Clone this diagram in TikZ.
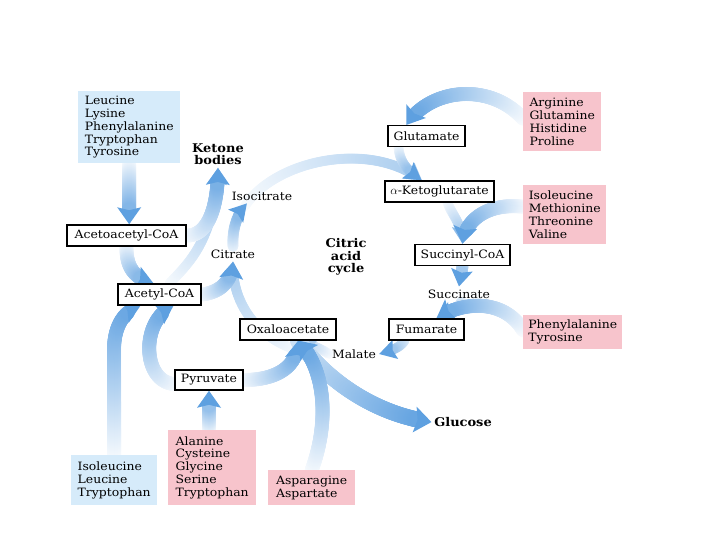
\documentclass[tikz,border=0pt]{standalone}
\usepackage{fontspec}
\setmainfont{DejaVu Serif}[FakeStretch=1.08]
\usetikzlibrary{decorations.markings}
\definecolor{flowblue}{RGB}{94,160,224}
\definecolor{boxblue}{RGB}{214,235,250}
\definecolor{boxpink}{RGB}{247,196,204}
\pgfdeclarelayer{background}
\pgfsetlayers{background,main}
\def\flowr{7pt}\def\flowh{12pt}\def\flows{4}\def\flowe{100}
\tikzset{
  flow r/.store in=\flowr,
  flow head/.store in=\flowh,
  flow from/.store in=\flows,
  flow to/.store in=\flowe,
  flow/.style={postaction={decorate,decoration={markings,
    mark=between positions 0 and -14pt step 1pt with {%
      \pgfmathsetmacro\flowfr{max(0,min(100,\flows+(\flowe-\flows)*\pgfkeysvalueof{/pgf/decoration/mark info/distance from start}/\pgfdecoratedpathlength))}%
      \fill[flowblue!\flowfr!white] (0pt,0pt) circle[radius=\flowr];},
    mark=at position -3pt with {%
      \fill[flowblue!\flowe!white] (-14pt,-\flowh) -- (3pt,0pt) -- (-14pt,\flowh) -- (-11pt,0pt) -- cycle;}}}},
  thin flow/.style={flow, flow r=5pt, flow head=10pt},
  cycle flow/.style={flow, flow r=5pt, flow head=10pt, flow to=55},
  aabox/.style={anchor=north west, inner sep=5pt, align=left},
  bluebox/.style={aabox, fill=boxblue},
  pinkbox/.style={aabox, fill=boxpink},
  mbox/.style={draw=black, line width=1.5pt, fill=white, inner sep=2pt, minimum height=21pt},
  plain/.style={inner sep=3pt},
  boldlabel/.style={inner sep=3pt, font=\fontsize{12}{12.5}\selectfont\bfseries, align=center},
}
\begin{document}
\begin{tikzpicture}[x=1pt,y=-1pt, font=\fontsize{11.5}{12.8}\selectfont]
\useasboundingbox (0,0) rectangle (720,540);
% amino acid boxes
\node[bluebox, minimum width=102pt, minimum height=72pt] (leu) at (78,91) {Leucine\\Lysine\\Phenylalanine\\Tryptophan\\Tyrosine};
\node[bluebox, minimum width=86pt, minimum height=50pt] (ilb) at (71,455) {Isoleucine\\Leucine\\Tryptophan};
\node[pinkbox, minimum width=78pt, minimum height=59pt] (arg) at (523,92) {Arginine\\Glutamine\\Histidine\\Proline};
\node[pinkbox, minimum width=83pt, minimum height=59pt] (ilm) at (523,185) {Isoleucine\\Methionine\\Threonine\\Valine};
\node[pinkbox, minimum width=99pt, minimum height=33pt] (phe) at (523,315) {Phenylalanine\\Tyrosine};
\node[pinkbox, minimum width=88pt, minimum height=75pt] (ala) at (168,430) {Alanine\\Cysteine\\Glycine\\Serine\\Tryptophan};
\node[pinkbox, minimum width=87pt, minimum height=35pt] (asn) at (268,470) {Asparagine\\Aspartate};
% metabolites
\node[mbox, minimum width=77pt] (glu) at (426.5,136) {Glutamate};
\node[mbox, minimum width=109pt] (akg) at (439.5,191.5) {$\alpha$-Ketoglutarate};
\node[mbox, minimum width=95pt] (scoa) at (462.5,255) {Succinyl-CoA};
\node[mbox, minimum width=75pt] (fum) at (426.5,329.5) {Fumarate};
\node[mbox, minimum width=96pt] (oaa) at (288,329.5) {Oxaloacetate};
\node[mbox, minimum width=83pt] (acoa) at (159.5,294.5) {Acetyl-CoA};
\node[mbox, minimum width=119pt] (aacoa) at (126.5,235.5) {Acetoacetyl-CoA};
\node[mbox, minimum width=68pt, minimum height=20pt] (pyr) at (209,380) {Pyruvate};
% labels
\node[boldlabel] (ket) at (218,154) {Ketone\\bodies};
\node[plain] (iso) at (262,196) {Isocitrate};
\node[plain] (cit) at (233,254) {Citrate};
\node[boldlabel] (cac) at (346,257) {Citric\\acid\\cycle};
\node[plain] (succ) at (459,294) {Succinate};
\node[plain] (mal) at (354,354) {Malate};
\node[boldlabel] (glc) at (463,422) {Glucose};
% connectors
\begin{pgfonlayer}{background}
% citric acid cycle
\path[cycle flow] (297,350) .. controls (255,337) and (231,300) .. (cit.south);
\path[cycle flow] (mal.west) .. controls (320,348) and (308,344) .. ([xshift=12pt]oaa.south);
\path[cycle flow] (245,206) .. controls (275,160) and (370,140) .. ([xshift=-18pt]akg.north);
\path[cycle flow, flow to=70] ([xshift=8pt]akg.south) .. controls (452,215) and (463,225) .. (scoa.north);
\path[thin flow, flow from=15, flow r=5.5pt] (cit.north) .. controls (232,228) and (238,212) .. ([xshift=-15pt]iso.south);
\path[thin flow] ([xshift=-28pt]glu.south) .. controls (400,165) and (410,172) .. ([xshift=-18pt]akg.north);
\path[flow] ([yshift=3pt]arg.west) .. controls (490,82) and (430,88) .. ([xshift=-20pt]glu.north);
\path[flow] ([yshift=8pt]ilm.west) .. controls (490,203) and (465,218) .. (scoa.north);
\path[flow, flow r=6pt, flow head=11pt, flow from=40] (scoa.south) -- (succ.north);
\path[thin flow, flow from=20] ([xshift=2pt]succ.south) .. controls (458,310) and (448,313) .. ([xshift=10pt]fum.north);
\path[flow] ([yshift=2pt]phe.west) .. controls (505,300) and (465,300) .. ([xshift=10pt]fum.north);
\path[thin flow, flow from=20] ([xshift=-22pt]fum.south) .. controls (400,348) and (390,351) .. (mal.east);
% entry points
\path[flow, flow r=8pt, flow head=13pt, flow from=30] ([xshift=10pt]oaa.south) .. controls (330,385) and (380,415) .. (glc.west);
\path[flow] (pyr.east) .. controls (275,380) and (298,368) .. ([xshift=10pt]oaa.south);
\path[flow] (asn.north) .. controls (330,420) and (325,368) .. ([xshift=10pt]oaa.south);
\path[flow] (pyr.south |- ala.north) -- (pyr.south);
\path[flow] ([yshift=-4pt]pyr.west) .. controls (142,382) and (140,320) .. ([xshift=14pt]acoa.south);
\path[flow] (ilb.north) -- (114,350) .. controls (114,325) and (125,310) .. ([xshift=-19pt]acoa.south);
\path[flow] (leu.south) -- (leu.south |- aacoa.north);
\path[flow] (aacoa.south) .. controls (126,270) and (137,279) .. ([xshift=-6pt]acoa.north);
\path[thin flow, flow to=75] ([xshift=10pt]acoa.north) .. controls (190,262) and (214,240) .. (ket.south);
\path[flow] (aacoa.east) .. controls (206,236) and (218,212) .. (ket.south);
\path[flow] (acoa.east) .. controls (222,292) and (232,280) .. (cit.south);
\end{pgfonlayer}
\end{tikzpicture}
\end{document}
